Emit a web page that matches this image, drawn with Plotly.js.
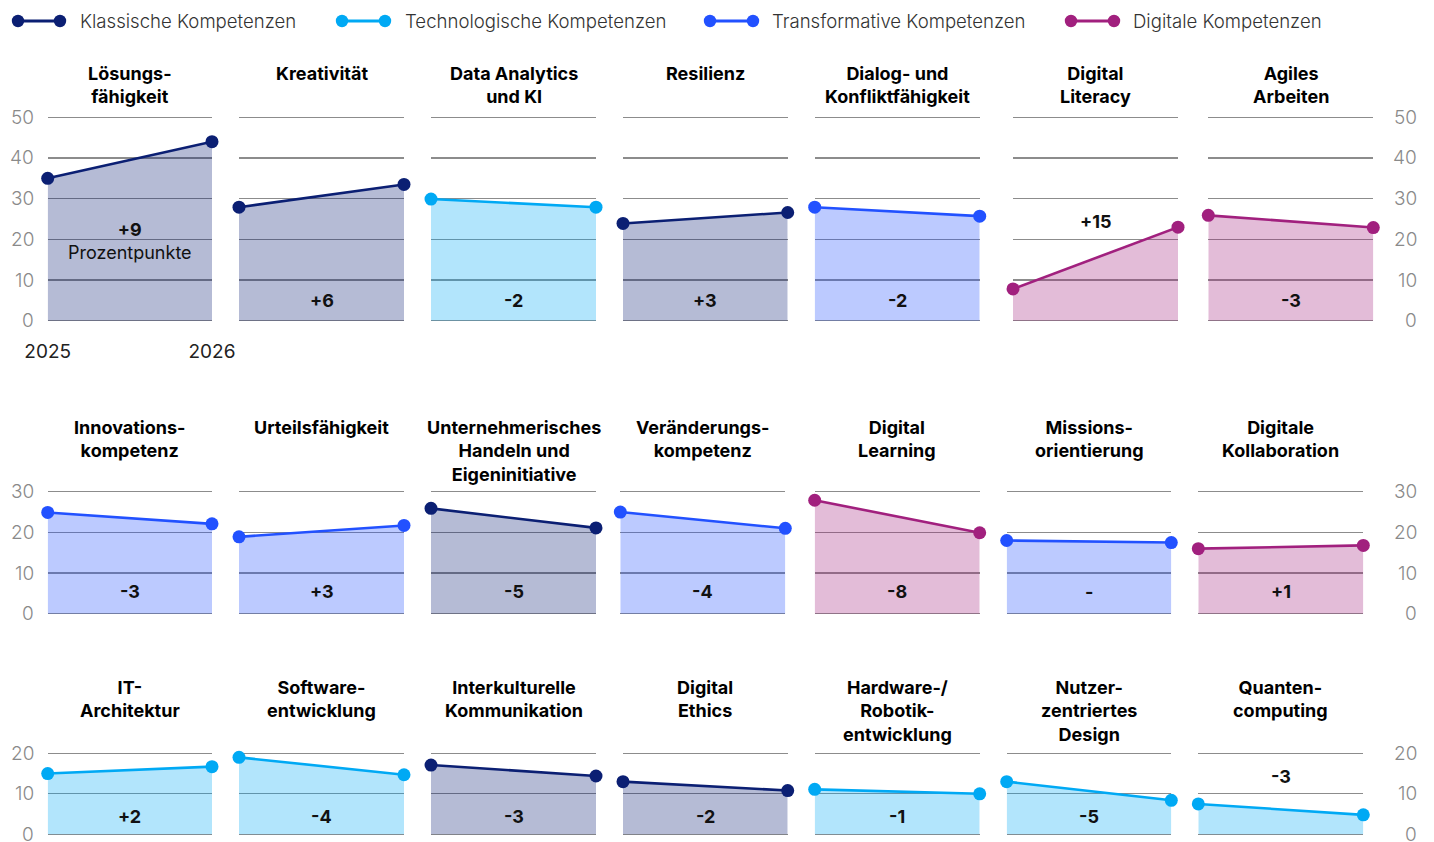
<!DOCTYPE html>
<html>
<head>
<meta charset="utf-8">
<script src="https://cdn.plot.ly/plotly-3.0.1.min.js"></script>
<style>
  html, body { margin: 0; padding: 0; background: #ffffff; }
  #chart { width: 1434px; height: 842px; }
</style>
</head>
<body>
<div id="chart"></div>
<script>
// ---- Data ----------------------------------------------------------------
const years = [2025, 2026];

const groupNames = ['Klassische Kompetenzen', 'Technologische Kompetenzen',
                    'Transformative Kompetenzen', 'Digitale Kompetenzen'];

// Row 1
const row1Skills = ['Lösungs-<br>fähigkeit', 'Kreativität', 'Data Analytics<br>und KI', 'Resilienz',
                    'Dialog- und<br>Konfliktfähigkeit', 'Digital<br>Literacy', 'Agiles<br>Arbeiten'];
const row1Group  = [0, 0, 1, 0, 2, 3, 3];
const row1Start  = [35, 27.9, 29.9, 23.9, 27.9, 7.8, 25.9];
const row1End    = [44, 33.5, 27.9, 26.6, 25.7, 23.0, 22.9];
const row1Change = ['+9', '+6', '-2', '+3', '-2', '+15', '-3'];
const row1Ticks  = [0, 10, 20, 30, 40, 50];

// Row 2
const row2Skills = ['Innovations-<br>kompetenz', 'Urteilsfähigkeit', 'Unternehmerisches<br>Handeln und<br>Eigeninitiative',
                    'Veränderungs-<br>kompetenz', 'Digital<br>Learning', 'Missions-<br>orientierung', 'Digitale<br>Kollaboration'];
const row2Group  = [2, 2, 0, 2, 3, 2, 3];
const row2Start  = [24.9, 18.9, 25.9, 25.0, 27.9, 18.0, 16.0];
const row2End    = [22.1, 21.7, 21.1, 21.0, 19.9, 17.5, 16.8];
const row2Change = ['-3', '+3', '-5', '-4', '-8', '-', '+1'];
const row2Ticks  = [0, 10, 20, 30];

// Row 3
const row3Skills = ['IT-<br>Architektur', 'Software-<br>entwicklung', 'Interkulturelle<br>Kommunikation',
                    'Digital<br>Ethics', 'Hardware-/<br>Robotik-<br>entwicklung', 'Nutzer-<br>zentriertes<br>Design',
                    'Quanten-<br>computing'];
const row3Group  = [1, 1, 0, 0, 1, 1, 1];
const row3Start  = [15.0, 19.0, 17.1, 13.0, 11.1, 13.0, 7.5];
const row3End    = [16.7, 14.7, 14.4, 10.8, 10.0, 8.4, 4.8];
const row3Change = ['+2', '-4', '-3', '-2', '-1', '-5', '-3'];
const row3Ticks  = [0, 10, 20];

const unitNote = 'Prozentpunkte';

// ---- Styling -------------------------------------------------------------
const W = 1434, H = 842;
const lineColors = ['#0b1f73', '#00a9f4', '#2251ff', '#a1207e'];
const fillColors = ['rgba(11,31,115,0.30)', 'rgba(0,169,244,0.30)',
                    'rgba(34,81,255,0.30)', 'rgba(161,32,126,0.30)'];
const FONT = 'Inter, Roboto, "Liberation Sans", Arial, sans-serif';
const PAD = 2;   // px of breathing room so the outer grid lines are kept

// pixel frames of every panel row
const frames = [
  { base: 320.7, top: 117.3, titleTop: 61, labelY: 300,
    cols: [[47.7, 212], [239, 404], [431, 596], [623, 787.7], [814.7, 979.7], [1013, 1178], [1208.3, 1373.3]] },
  { base: 613.7, top: 491.7, titleTop: 415, labelY: 591.5,
    cols: [[47.7, 212], [239, 404], [431, 596], [620.3, 785.3], [814.7, 979.7], [1006.7, 1171.3], [1198.3, 1363.3]] },
  { base: 834.3, top: 753.3, titleTop: 675, labelY: 816.5,
    cols: [[47.7, 212], [239, 404], [431, 596], [623, 787.7], [814.7, 979.7], [1006.7, 1171.3], [1198.3, 1363.3]] }
];
// change labels that sit somewhere other than the panel floor
const labelOverrides = { '0-0': 240.5, '0-5': 221, '2-6': 776.5 };

const rows = [
  { skills: row1Skills, group: row1Group, start: row1Start, end: row1End, change: row1Change, ticks: row1Ticks },
  { skills: row2Skills, group: row2Group, start: row2Start, end: row2End, change: row2Change, ticks: row2Ticks },
  { skills: row3Skills, group: row3Group, start: row3Start, end: row3End, change: row3Change, ticks: row3Ticks }
];

const px = v => v / W;
const py = v => 1 - v / H;

const traces = [];
const layout = {
  width: W, height: H,
  margin: { l: 0, r: 0, t: 0, b: 0 },
  paper_bgcolor: '#ffffff', plot_bgcolor: 'rgba(0,0,0,0)',
  showlegend: false,
  font: { family: FONT, color: '#222222' },
  annotations: [], shapes: []
};

const tickFont = { family: FONT, size: 19, color: '#8a8a8a', weight: 300 };

rows.forEach((row, r) => {
  const fr = frames[r];
  const yMax = row.ticks[row.ticks.length - 1];
  const unitPx = (fr.base - fr.top) / yMax;
  const padU = PAD / unitPx;
  row.skills.forEach((skill, c) => {
    const n = r * 7 + c + 1;
    const xa = n === 1 ? 'x' : 'x' + n;
    const ya = n === 1 ? 'y' : 'y' + n;
    const g = row.group[c];
    const [x0, x1] = fr.cols[c];

    traces.push({
      type: 'scatter', mode: 'lines+markers',
      x: years, y: [row.start[c], row.end[c]],
      xaxis: xa, yaxis: ya,
      fill: 'tozeroy', fillcolor: fillColors[g],
      line: { color: lineColors[g], width: 2.6 },
      marker: { color: lineColors[g], size: 13 },
      cliponaxis: false, hoverinfo: 'skip'
    });

    const first = (r === 0 && c === 0);
    layout['xaxis' + (n === 1 ? '' : n)] = {
      domain: [px(x0), px(x1)], range: [2025, 2026], anchor: ya,
      showgrid: false, zeroline: false, showline: false, ticks: '',
      showticklabels: first, tickvals: years, ticktext: years.map(String),
      tickfont: { family: FONT, size: 19, color: '#222222' },
      ticklabelstandoff: 15, fixedrange: true
    };
    layout['yaxis' + (n === 1 ? '' : n)] = {
      domain: [py(fr.base + PAD), py(fr.top - PAD)], range: [-padU, yMax + padU], anchor: xa,
      tickvals: row.ticks, ticktext: row.ticks.map(String),
      showgrid: true, gridcolor: '#8c8c8c', gridwidth: 1.2,
      zeroline: false, showline: false, ticks: '',
      showticklabels: false, fixedrange: true
    };

    // panel heading
    layout.annotations.push({
      xref: 'paper', yref: 'paper', x: px((x0 + x1) / 2), y: py(fr.titleTop),
      xanchor: 'center', yanchor: 'top', showarrow: false,
      text: '<b>' + skill + '</b>', align: 'center',
      font: { family: FONT, size: 18, color: '#000000' }
    });

    // change label
    const key = r + '-' + c;
    const ly = labelOverrides[key] !== undefined ? labelOverrides[key] : fr.labelY;
    const txt = (r === 0 && c === 0)
      ? '<b>' + row.change[c] + '</b><br>' + unitNote
      : '<b>' + row.change[c] + '</b>';
    layout.annotations.push({
      xref: 'paper', yref: 'paper', x: px((x0 + x1) / 2), y: py(ly),
      xanchor: 'center', yanchor: 'middle', showarrow: false,
      text: txt, align: 'center',
      font: { family: FONT, size: 18, color: '#111111' }
    });

    // value scales on both outer sides of the row
    if (c === 0 || c === 6) {
      row.ticks.forEach(t => {
        layout.annotations.push({
          xref: 'paper', yref: ya, x: px(c === 0 ? 36 : 1419), y: t,
          xanchor: 'right', yanchor: 'middle', showarrow: false,
          text: String(t), font: tickFont
        });
      });
    }
  });
});

// legend: a line with a dot on each end, followed by the group name
const legendX = [[18, 60, 78], [342, 385, 403], [710, 753, 770], [1071, 1114, 1131]];
const legendY = 21, dotR = 6.2;
groupNames.forEach((name, i) => {
  const [a, b, t] = legendX[i];
  layout.shapes.push({
    type: 'line', xref: 'paper', yref: 'paper',
    x0: px(a), x1: px(b), y0: py(legendY), y1: py(legendY),
    line: { color: lineColors[i], width: 3 }
  });
  [a, b].forEach(cx => layout.shapes.push({
    type: 'circle', xref: 'paper', yref: 'paper',
    x0: px(cx - dotR), x1: px(cx + dotR), y0: py(legendY + dotR), y1: py(legendY - dotR),
    fillcolor: lineColors[i], line: { width: 0 }
  }));
  layout.annotations.push({
    xref: 'paper', yref: 'paper', x: px(t), y: py(legendY),
    xanchor: 'left', yanchor: 'middle', showarrow: false, text: name,
    font: { family: FONT, size: 18.6, color: '#333333', weight: 300 }
  });
});

Plotly.newPlot('chart', traces, layout, { displayModeBar: false, staticPlot: true });
</script>
</body>
</html>
